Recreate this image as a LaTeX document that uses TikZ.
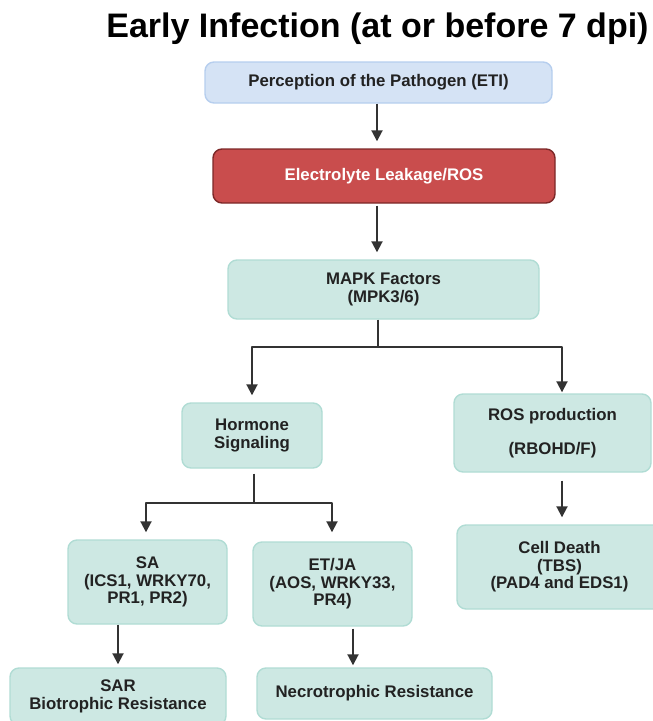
\documentclass[tikz,border=0pt]{standalone}
\usepackage{fontspec}
\setmainfont{Liberation Sans}
\usetikzlibrary{arrows.meta,calc}

\definecolor{tealfill}{HTML}{CDE8E3}
\definecolor{tealedge}{HTML}{B0DCD4}
\definecolor{bluefill}{HTML}{D5E3F5}
\definecolor{blueedge}{HTML}{B6CEEE}
\definecolor{redfill}{HTML}{C94D4D}
\definecolor{rededge}{HTML}{7C2828}
\definecolor{ink}{HTML}{222222}
\definecolor{wire}{HTML}{333333}

\tikzset{
  box/.style={draw=tealedge, fill=tealfill, line width=1.4pt, rounded corners=9pt,
    align=center, inner sep=0pt, text=ink,
    font=\fontsize{16.8}{17.5}\selectfont\bfseries},
  bluebox/.style={box, draw=blueedge, fill=bluefill},
  redbox/.style={box, draw=rededge, fill=redfill, text=white},
  wireline/.style={draw=wire, line width=1.9pt, line join=round},
  arr/.style={wireline, -{Triangle[width=11pt,length=11pt]}},
}

\begin{document}
\begin{tikzpicture}[x=1pt,y=-1pt]
\useasboundingbox (0,0) rectangle (653,721);

% title
\node[anchor=base, font=\fontsize{34}{36}\selectfont\bfseries, text=black, inner sep=0pt]
  (title) at (377.5,37) {Early Infection (at or before 7 dpi)};

% boxes
\node[bluebox, minimum width=347pt, minimum height=41pt] (perc) at (378.5,82.5)
  {Perception of the Pathogen (ETI)};
\node[redbox, minimum width=342pt, minimum height=54pt] (elec) at (384,176)
  {Electrolyte Leakage/ROS};
\node[box, minimum width=311pt, minimum height=59pt] (mapk) at (383.5,289.5)
  {MAPK Factors\\(MPK3/6)};
\node[box, minimum width=140pt, minimum height=65pt] (horm) at (252,435.5)
  {Hormone\\Signaling};
\node[box, minimum width=197pt, minimum height=78pt] (rosp) at (552.5,433)
  {ROS production\\[17pt](RBOHD/F)};
\node[box, minimum width=205pt, minimum height=84pt] (cell) at (559.5,567)
  {Cell Death\\(TBS)\\(PAD4 and EDS1)};
\node[box, minimum width=159pt, minimum height=84pt] (sa) at (147.5,582)
  {SA\\(ICS1, WRKY70,\\PR1, PR2)};
\node[box, minimum width=159pt, minimum height=84pt] (etja) at (332.5,584)
  {ET/JA\\(AOS, WRKY33,\\PR4)};
\node[box, minimum width=216pt, minimum height=57pt] (sar) at (118,696.5)
  {SAR\\Biotrophic Resistance};
\node[box, minimum width=235pt, minimum height=51pt] (necro) at (374.5,693.5)
  {Necrotrophic Resistance};

% junction points of the branching connectors
\coordinate (spine) at (377,0);
\coordinate (j1) at (378,347);
\coordinate (j2) at (254,503);
\coordinate (j3) at (353,0);

% main chain
\draw[arr, shorten >=7pt] (spine |- perc.south) -- (spine |- elec.north);
\draw[arr, shorten <=2pt, shorten >=7pt] (spine |- elec.south) -- (spine |- mapk.north);

% MAPK branches
\draw[wireline] (j1 |- mapk.south) -- (j1);
\draw[arr, shorten >=7pt] (j1) -| (horm.north);
\draw[arr, shorten >=1pt] (j1) -| ([xshift=9.5pt]rosp.north);

% hormone branches
\draw[wireline, shorten <=5pt] (j2 |- horm.south) -- (j2);
\draw[arr, shorten >=7pt] (j2) -| ([xshift=-1.5pt]sa.north);
\draw[arr, shorten >=9pt] (j2) -| ([xshift=-0.5pt]etja.north);

% lower arrows
\draw[arr, shorten <=8pt, shorten >=7pt] ([xshift=9.5pt]rosp.south) -- ([xshift=2.5pt]cell.north);
\draw[arr, shorten >=3pt] (sar.north |- sa.south) -- (sar.north);
\draw[arr, shorten <=2pt, shorten >=2pt] (j3 |- etja.south) -- (j3 |- necro.north);
\end{tikzpicture}
\end{document}
